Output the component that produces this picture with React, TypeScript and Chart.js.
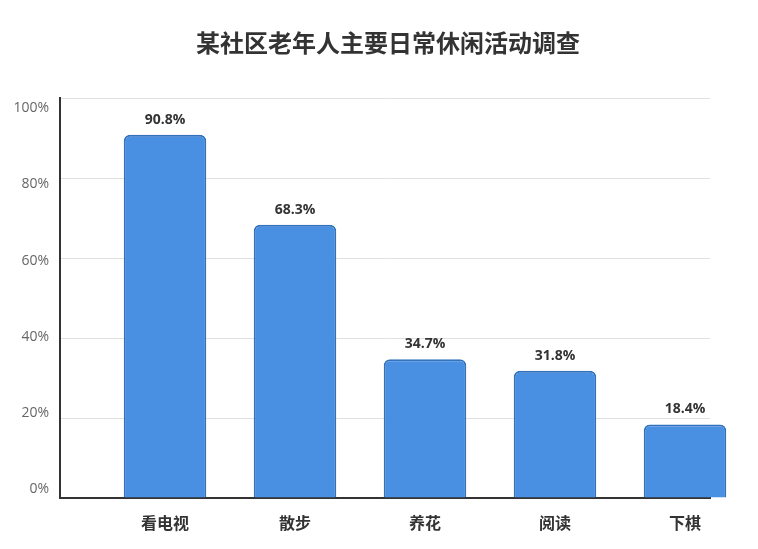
import React, { useEffect, useRef } from "react";
import { Chart, registerables } from "chart.js";

Chart.register(...registerables);

const titleText = "某社区老年人主要日常休闲活动调查";
const categories = ["看电视", "散步", "养花", "阅读", "下棋"];
const values = [90.8, 68.3, 34.7, 31.8, 18.4];
const yTicks = [0, 20, 40, 60, 80, 100];

const FONT = '"Open Sans", "Noto Sans CJK SC", sans-serif';

const valueLabelPlugin = {
  id: "valueLabels",
  afterDatasetsDraw(chart: any) {
    const ctx = chart.ctx;
    const meta = chart.getDatasetMeta(0);
    ctx.save();
    ctx.font = `bold 14px ${FONT}`;
    ctx.fillStyle = "#333333";
    ctx.textAlign = "center";
    ctx.textBaseline = "bottom";
    meta.data.forEach((el: any, i: number) => {
      ctx.fillText(values[i].toFixed(1) + "%", el.x, el.y - 8);
    });
    ctx.restore();
  },
};

export default function App() {
  const ref = useRef<HTMLCanvasElement | null>(null);
  useEffect(() => {
    document.body.style.margin = "0";
    document.body.style.overflow = "hidden";
    const chart = new Chart(ref.current as HTMLCanvasElement, {
      type: "bar",
      data: {
        datasets: [
          {
            data: values.map((v, i) => ({ x: i, y: v })),
            backgroundColor: "#4A90E2",
            borderColor: "#3272BC",
            borderWidth: 2,
            borderRadius: { topLeft: 6, topRight: 6, bottomLeft: 0, bottomRight: 0 },
            borderSkipped: "bottom",
            categoryPercentage: 1,
            barPercentage: 0.635,
            clip: false as any,
          },
        ],
      },
      options: {
        responsive: false,
        animation: false,
        layout: { padding: 0 },
        plugins: {
          legend: { display: false },
          tooltip: { enabled: false },
          title: {
            display: true,
            text: titleText,
            color: "#333333",
            font: { family: FONT, size: 24, weight: "bold" },
            padding: { top: 30.6, bottom: 38.6 },
          },
        },
        scales: {
          x: {
            type: "linear",
            offset: false,
            min: -0.5 - 40 / 130,
            max: 4.5 - 40 / 130,
            grid: { display: false, drawTicks: false, offset: false },
            border: { display: true, color: "#333333", width: 2 },
            afterBuildTicks: (scale: any) => {
              scale.ticks = categories.map((_, i) => ({ value: i }));
            },
            afterFit: (scale: any) => {
              scale.height = 51;
            },
            ticks: {
              autoSkip: false,
              maxRotation: 0,
              padding: 17,
              color: "#333333",
              font: { family: FONT, size: 16, weight: "bold" },
              callback: (v: any) => categories[Math.round(Number(v))] ?? "",
            },
          },
          y: {
            type: "linear",
            position: "left",
            weight: 0,
            min: 0,
            max: 100,
            afterBuildTicks: (scale: any) => {
              scale.ticks = yTicks.map((v) => ({ value: v }));
            },
            afterFit: (scale: any) => {
              scale.width = 0;
            },
            grid: { color: "#E0E0E0", lineWidth: 1, drawTicks: false },
            border: { display: true, color: "#333333", width: 2 },
            ticks: { display: false },
          },
          y2: {
            type: "linear",
            position: "left",
            weight: 1,
            min: -2.228,
            max: 102.62,
            afterBuildTicks: (scale: any) => {
              scale.ticks = yTicks.map((v) => ({ value: v }));
            },
            afterFit: (scale: any) => {
              scale.width = 60;
            },
            grid: { display: false, drawTicks: false },
            border: { display: false },
            ticks: {
              padding: 11,
              color: "#666666",
              font: { family: FONT, size: 14 },
              callback: (v: any) => v + "%",
            },
          },
          yRight: {
            type: "linear",
            position: "right",
            min: 0,
            max: 100,
            afterFit: (scale: any) => {
              scale.width = 66;
            },
            grid: { display: false, drawTicks: false },
            border: { display: false },
            ticks: { display: false },
          },
        },
      } as any,
      plugins: [valueLabelPlugin],
    });
    return () => chart.destroy();
  }, []);
  return (
    <div style={{ width: 758, height: 549, overflow: "hidden", background: "#ffffff" }}>
      <canvas ref={ref} width={776} height={549} style={{ display: "block" }} />
    </div>
  );
}
